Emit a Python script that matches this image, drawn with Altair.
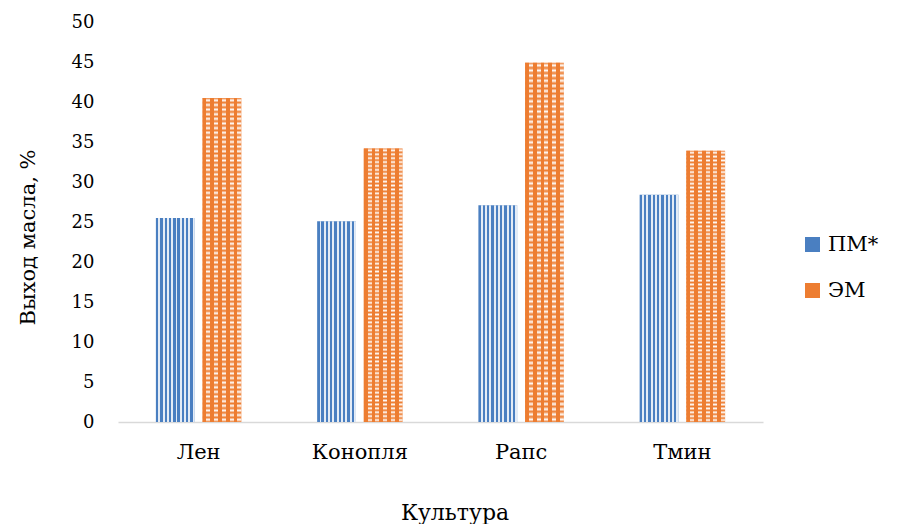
import altair as alt
import pandas as pd

cultures = ["Лен", "Конопля", "Рапс", "Тмин"]
series = ["ПМ*", "ЭМ"]
pm_values = [25.5, 25.1, 27.1, 28.4]
em_values = [40.5, 34.2, 44.9, 33.9]
y_ticks = [0, 5, 10, 15, 20, 25, 30, 35, 40, 45, 50]

rows = []
for c, p, e in zip(cultures, pm_values, em_values):
    rows.append({"Культура": c, "Метод": series[0], "Выход": p})
    rows.append({"Культура": c, "Метод": series[1], "Выход": e})
df = pd.DataFrame(rows)

FONT = "DejaVu Serif"
BLUE = "#4a7fc1"
ORANGE = "#ed7d31"


def stripes(n, on_frac, on_color, off_color, vertical):
    stops = []
    for i in range(n):
        a = i / n
        b = (i + on_frac) / n
        c = (i + 1) / n
        stops += [
            alt.GradientStop(offset=a, color=on_color),
            alt.GradientStop(offset=b, color=on_color),
            alt.GradientStop(offset=b, color=off_color),
            alt.GradientStop(offset=min(c, 1.0), color=off_color),
        ]
    if vertical:
        return alt.LinearGradient(gradient="linear", stops=stops, x1=0, y1=0, x2=0, y2=1)
    return alt.LinearGradient(gradient="linear", stops=stops, x1=0, y1=0, x2=1, y2=0)


def soft_rows(n, low_color, high_color):
    stops = []
    for i in range(n):
        stops += [
            alt.GradientStop(offset=i / n, color=low_color),
            alt.GradientStop(offset=(i + 0.5) / n, color=high_color),
        ]
    stops.append(alt.GradientStop(offset=1.0, color=low_color))
    return alt.LinearGradient(gradient="linear", stops=stops, x1=0, y1=0, x2=0, y2=1)


x = alt.X(
    "Культура:N",
    sort=cultures,
    scale=alt.Scale(paddingInner=0.47, paddingOuter=0.235),
    axis=alt.Axis(
        title="Культура",
        labelAngle=0,
        labelFontSize=21,
        labelPadding=19,
        ticks=False,
        domainColor="#d9d9d9",
        domainWidth=1.5,
        titleFontSize=22,
        titleFontWeight="normal",
        titleX=336.5,
        titleY=90,
        titleAlign="center",
        titleBaseline="middle",
        labelFont=FONT,
        titleFont=FONT,
    ),
)
xo = alt.XOffset("Метод:N", sort=series, scale=alt.Scale(domain=series, paddingInner=0.169, paddingOuter=0))
y = alt.Y(
    "Выход:Q",
    scale=alt.Scale(domain=[0, 50]),
    axis=alt.Axis(
        values=y_ticks,
        title="Выход масла, %",
        grid=False,
        domain=False,
        ticks=False,
        labelPadding=24,
        labelFontSize=18,
        titleFontSize=21,
        titleFontWeight="normal",
        titleAngle=270,
        titleX=-90,
        titleY=215,
        titleAlign="center",
        titleBaseline="middle",
        labelFont=FONT,
        titleFont=FONT,
    ),
)

base = alt.Chart().mark_bar().encode(
    x=x,
    xOffset=xo,
    y=y,
    fill=alt.Fill(
        "Метод:N",
        scale=alt.Scale(domain=series, range=[BLUE, ORANGE]),
        legend=alt.Legend(
            title=None,
            orient="none",
            legendX=684,
            legendY=212,
            symbolType="square",
            symbolSize=225,
            symbolStrokeWidth=0,
            labelFontSize=21,
            labelFont=FONT,
            labelColor="black",
            rowPadding=24,
            labelOffset=5,
        ),
    ),
)

pm_overlay = alt.Chart().mark_bar(
    fill=stripes(9, 0.55, "rgba(255,255,255,0)", "rgba(255,255,255,0.85)", vertical=False)
).encode(x=x, xOffset=xo, y=y).transform_filter(alt.datum["Метод"] == series[0])

em_rows = alt.Chart().mark_bar(
    fill=soft_rows(70, "rgba(255,255,255,0)", "rgba(255,255,255,0.95)")
).encode(x=x, xOffset=xo, y=y).transform_filter(alt.datum["Метод"] == series[1])

em_cols = alt.Chart().mark_bar(
    fill=stripes(5, 0.5, ORANGE, "rgba(237,125,49,0)", vertical=False)
).encode(x=x, xOffset=xo, y=y).transform_filter(alt.datum["Метод"] == series[1])

chart = (
    alt.layer(base, pm_overlay, em_rows, em_cols, data=df)
    .properties(
        width=645,
        height=400,
        autosize=alt.AutoSizeParams(type="none"),
        padding={"left": 110, "top": 14, "right": 132, "bottom": 102},
    )
    .configure_view(stroke=None)
    .configure_axis(labelFont=FONT, titleFont=FONT, labelColor="black", titleColor="black")
    .configure_legend(labelFont=FONT)
)

chart.save("out.html", embed_options={"renderer": "svg", "actions": False})
